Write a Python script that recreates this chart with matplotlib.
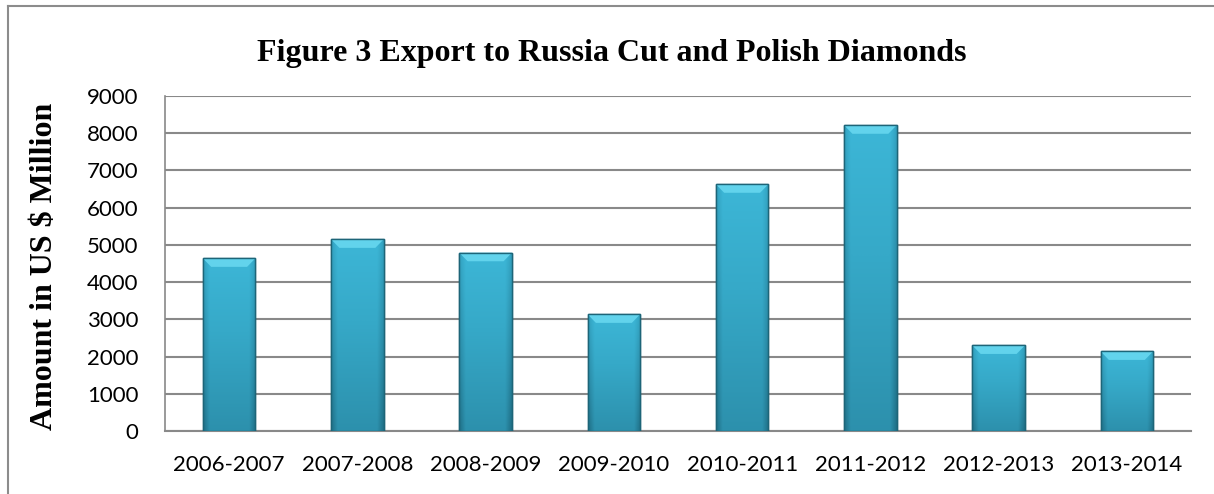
import numpy as np
import matplotlib.pyplot as plt
from matplotlib.lines import Line2D
from matplotlib.patches import Polygon
from matplotlib.colors import LinearSegmentedColormap

years = ['2006-2007', '2007-2008', '2008-2009', '2009-2010',
         '2010-2011', '2011-2012', '2012-2013', '2013-2014']
amounts = [4640, 5150, 4790, 3135, 6630, 8215, 2300, 2140]
yticks = [0, 1000, 2000, 3000, 4000, 5000, 6000, 7000, 8000, 9000]

fig = plt.figure(figsize=(12.14, 4.94), dpi=100)
ax = fig.add_axes([165 / 1214, 1 - 431 / 494, 1026 / 1214, 335 / 494])

x = np.arange(len(years))
bars = ax.bar(x, amounts, width=0.41, color='#35acca', edgecolor='#1d6578',
              linewidth=1.0, zorder=3)

# shading inside each bar: lighter top, darker bottom and sides
vy = np.linspace(0, 1, 200).reshape(-1, 1)
vx = np.linspace(-1, 1, 60).reshape(1, -1)
shade = 0.35 + 0.55 * vy - 0.35 * np.clip(np.abs(vx) - 0.75, 0, None) / 0.25
cmap = LinearSegmentedColormap.from_list(
    'teal', ['#1f6f86', '#2c8fab', '#36a9c8', '#3fbcdd'])
bevel_h = 230
bevel_dx = 0.065
for b in bars:
    bx, by = b.get_x(), b.get_y()
    w, h = b.get_width(), b.get_height()
    top = by + h
    im = ax.imshow(shade, extent=[bx, bx + w, by, top], origin='lower',
                   cmap=cmap, vmin=0, vmax=1, aspect='auto', zorder=3.5)
    im.set_clip_path(b)
    ax.add_patch(Polygon([(bx, top), (bx + w, top),
                          (bx + w - bevel_dx, top - bevel_h),
                          (bx + bevel_dx, top - bevel_h)],
                         closed=True, facecolor='#62d3ec', edgecolor='none',
                         zorder=3.6))
    ax.bar(bx + w / 2, h, width=w, fill=False, edgecolor='#1d6578',
           linewidth=1.0, zorder=4)

ax.set_xlim(-0.5, len(years) - 0.5)
ax.set_ylim(0, 9000)
ax.set_yticks(yticks)
ax.set_xticks(x)
ax.set_xticklabels(years, family='Lato', fontsize=16)
ax.set_yticklabels([str(v) for v in yticks], family='Lato', fontsize=16)
ax.tick_params(axis='y', length=0, pad=19)
ax.tick_params(axis='x', length=0, pad=17)
ax.yaxis.grid(True, color='#898989', linewidth=1.5, zorder=0)
ax.set_axisbelow(True)
for s in ['top', 'right']:
    ax.spines[s].set_visible(False)
ax.spines['left'].set_color('#898989')
ax.spines['bottom'].set_color('#898989')
ax.spines['left'].set_linewidth(1.2)
ax.spines['bottom'].set_linewidth(1.5)

ax.set_ylabel('Amount in US $ Million', family='Liberation Serif',
              fontweight='bold', fontsize=23)
ax.yaxis.set_label_coords(-0.103, 0.49)

fig.text(0.504, 0.892, 'Figure 3 Export to Russia Cut and Polish Diamonds',
         ha='center', va='center', family='Liberation Serif',
         fontweight='bold', fontsize=23)

# outer chart border (top and left visible)
fig.add_artist(Line2D([8 / 1214, 1], [1 - 6 / 494, 1 - 6 / 494],
                      color='#8c8c8c', linewidth=1.5))
fig.add_artist(Line2D([8 / 1214, 8 / 1214], [0, 1 - 6 / 494],
                      color='#8c8c8c', linewidth=1.5))

fig.savefig('out.png', dpi=100)
